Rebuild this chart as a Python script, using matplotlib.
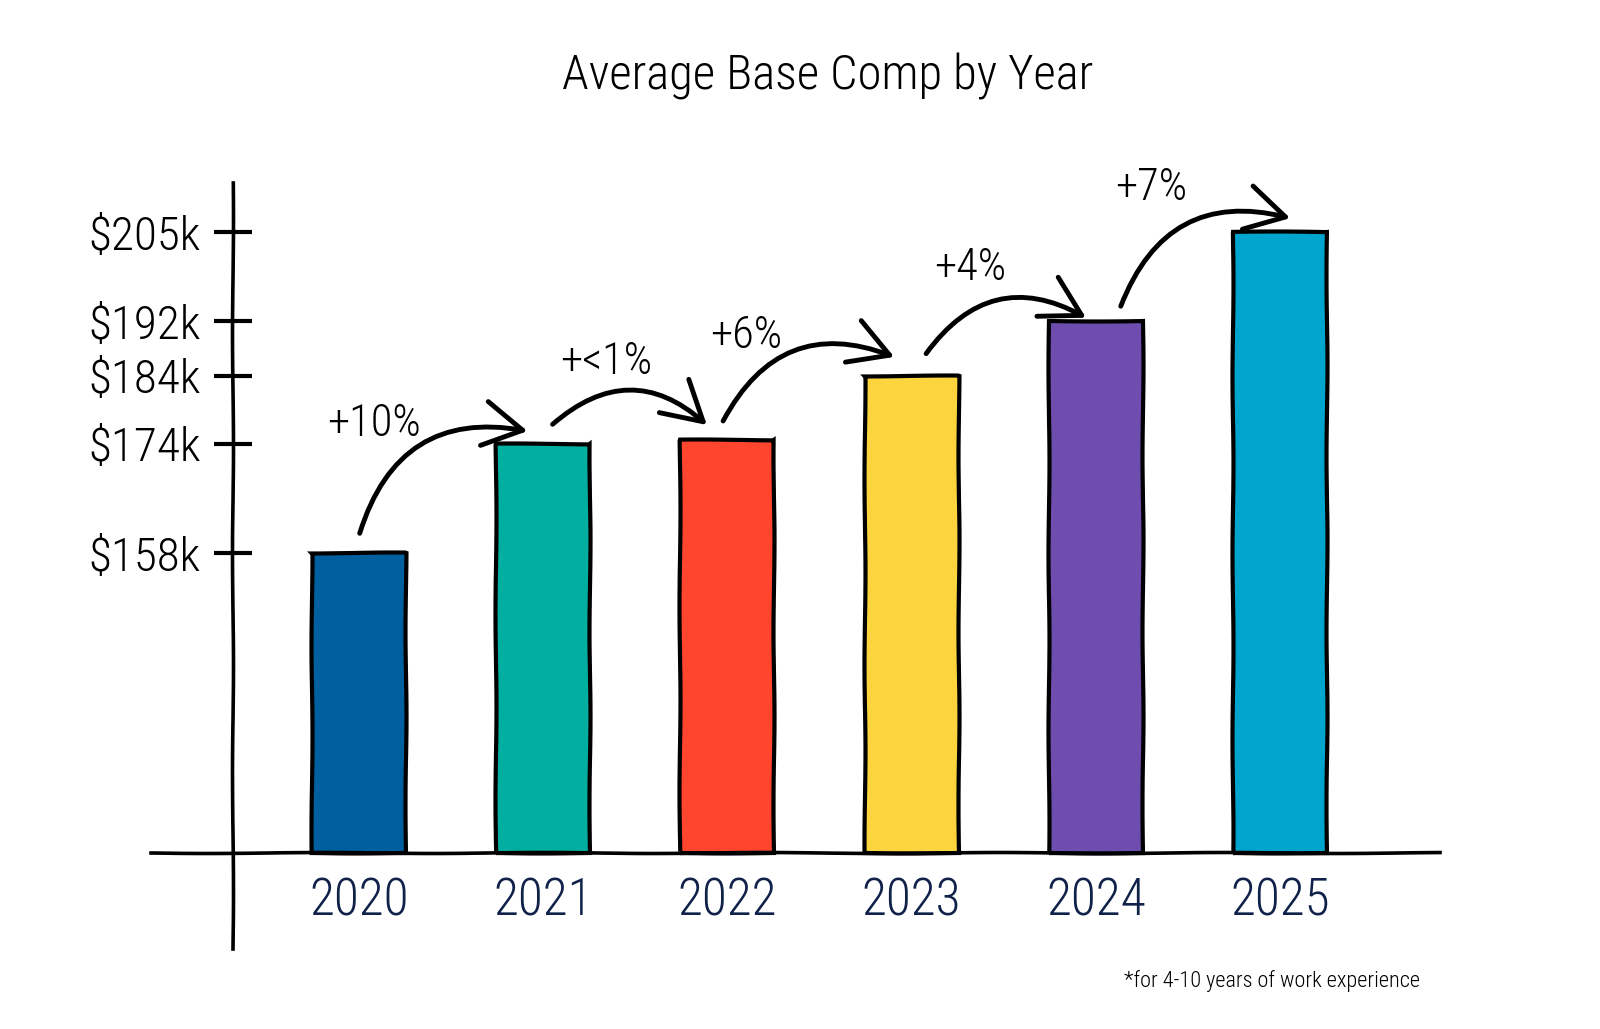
import matplotlib
matplotlib.use("Agg")
from matplotlib import pyplot, font_manager
from matplotlib.patches import FancyArrowPatch

# values, in $k
years = ["2020", "2021", "2022", "2023", "2024", "2025"]
base_comp = [158, 174, 174.6, 184, 192, 205]
tick_values = [158, 174, 184, 192, 205]
tick_labels = ["$158k", "$174k", "$184k", "$192k", "$205k"]
changes = ["+10%", "+<1%", "+6%", "+4%", "+7%"]
colors = ["#00609F", "#00AF9F", "#FF452D", "#FBD43E", "#6E4DAE", "#00A5CD"]

# pick a narrow, light face if one is around
installed = {f.name for f in font_manager.fontManager.ttflist}
hand = "DejaVu Sans"
for name in ["Roboto Condensed", "Liberation Sans Narrow", "Open Sans Condensed",
             "Roboto", "Lato"]:
    if name in installed:
        hand = name
        break
pyplot.rcParams["font.family"] = [hand, "DejaVu Sans"]
pyplot.rcParams["font.weight"] = "light"

figure = pyplot.figure(figsize=(16, 10.29), dpi=100)
axes = figure.add_axes([0.0942, 0.0777, 0.806, 0.744])

x = list(range(len(years)))
baseline = 114
heights = [v - baseline for v in base_comp]
bars = axes.bar(x, heights, bottom=baseline, width=0.51, color=colors,
                edgecolor="black", linewidth=3, zorder=2)
for b in bars:
    b.set_sketch_params(0.5, 200, 2)

axes.set_xlim(-1.13, 5.87)
axes.set_ylim(99.94, 212.18)

# spines as hand drawn axes
for side in ["top", "right"]:
    axes.spines[side].set_visible(False)
axes.spines["left"].set_position(("data", -0.685))
axes.spines["bottom"].set_position(("data", baseline))
for side in ["left", "bottom"]:
    axes.spines[side].set_linewidth(2.6)
    axes.spines[side].set_sketch_params(0.5, 250, 2)

axes.set_yticks(tick_values)
axes.set_yticklabels(tick_labels)
axes.tick_params(axis="y", direction="inout", length=28, width=3, pad=9,
                 labelsize=34)
axes.set_xticks(x)
axes.set_xticklabels(years)
axes.tick_params(axis="x", length=0, pad=17, labelsize=37,
                 labelcolor="#10214A")

# curved arrows between bars
starts = [(0.0, 160.5), (1.04, 176.6), (1.97, 177.0), (3.07, 186.9), (4.13, 193.8)]
ends = [(0.93, 175.8), (1.9, 176.5), (2.92, 186.6), (3.96, 192.3), (5.07, 207.0)]
for (x0, y0), (x1, y1) in zip(starts, ends):
    arrow = FancyArrowPatch((x0, y0), (x1, y1),
                            connectionstyle="arc3,rad=-0.45",
                            arrowstyle="->,head_length=1.4,head_width=0.8",
                            mutation_scale=20, linewidth=3.5, color="black",
                            zorder=3)
    axes.add_patch(arrow)

label_pos = [(0.08, 177.0), (1.34, 186.0), (2.1, 189.8), (3.32, 199.8), (4.3, 211.6)]
for (lx, ly), text in zip(label_pos, changes):
    axes.text(lx, ly, text, fontsize=32, ha="center", va="center",
              clip_on=False)

figure.text(0.517, 0.926, "Average Base Comp by Year", fontsize=35,
            ha="center", va="center")
figure.text(0.8875, 0.047, "*for 4-10 years of work experience", fontsize=16,
            ha="right", va="center")

pyplot.savefig("out.png", dpi=100)
